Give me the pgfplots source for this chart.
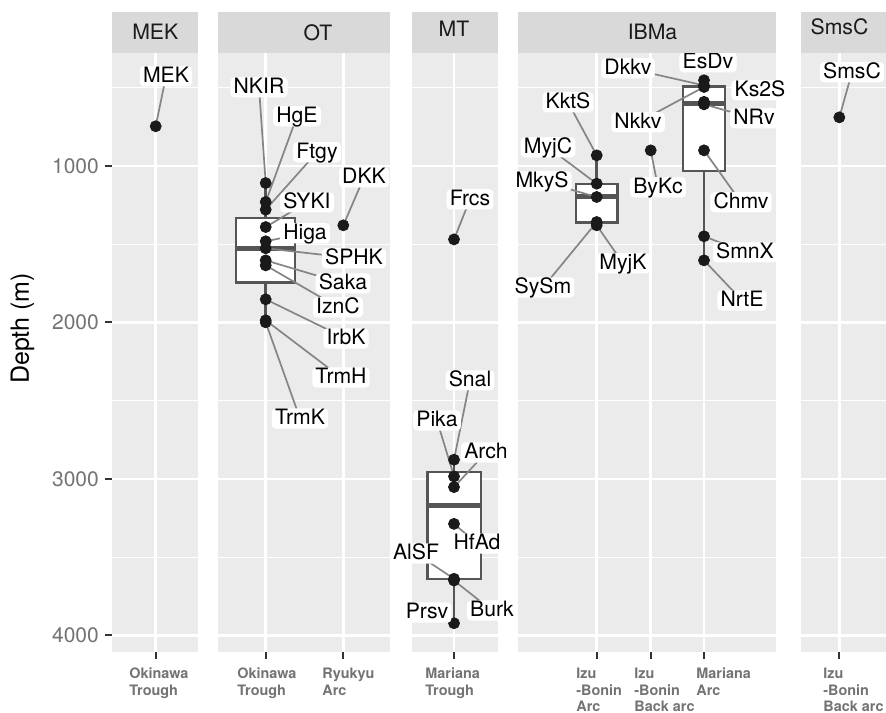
\documentclass[border=0pt]{standalone}
\usepackage{pgfplots}
\pgfplotsset{compat=1.18}
\usepackage{pgfplotstable}
\usepgfplotslibrary{statistics}
\usepackage{fontspec}
\setmainfont{TeX Gyre Heros}
\definecolor{panelbg}{HTML}{EBEBEB}
\definecolor{stripbg}{HTML}{D9D9D9}
\definecolor{tickcol}{HTML}{333333}
\definecolor{ticklab}{HTML}{737373}
\definecolor{boxcol}{HTML}{555555}
\definecolor{segcol}{HTML}{858585}
\definecolor{ptcol}{HTML}{1A1A1A}
\definecolor{striptext}{HTML}{1A1A1A}
\newcommand\labfont{\fontsize{10.6}{12}\selectfont}
\newcommand\tickfont{\fontsize{10.5}{12}\selectfont}

\pgfplotstableread{
name px py lx ly s
MEK 155.7 746 166 427 1
}\mekdata
\pgfplotstableread{
name px py lx ly s
NKIR 265.7 1109 259 497 1
HgE 265.7 1230 297 682 1
Ftgy 265.7 1279 317 912 1
SYKI 265.7 1390 307 1232 1
Higa 265.7 1481 305 1430 1
SPHK 265.7 1526 354 1590 1
Saka 265.7 1603 343 1750 1
IznC 265.7 1635 338 1903 1
IrbK 265.7 1852 346 2102 1
TrmH 265.7 1986 341 2351 1
TrmK 265.7 1999 300 2613 1
DKK 343.3 1379 364 1072 1
}\otdata
\pgfplotstableread{
name px py lx ly s
Frcs 454 1469 470 1213 1
Snal 454 2877 470 2370 1
Pika 454 2984 437 2626 1
Arch 454 3052 486 2831 1
HfAd 454 3287 477 3412 1
AlSF 454 3638 416 3476 1
Burk 454 3649 492 3841 1
Prsv 454 3922 427 3854 1
}\mtdata
\pgfplotstableread{
name px py lx ly s
KktS 596.7 932 568 593 1
MyjC 596.7 1113 548 880 1
MkyS 596.7 1198 542 1098 1
SySm 596.7 1358 543 1776 1
MyjK 596.7 1379 623 1622 1
ByKc 650.7 900 658 1136 1
EsDv 704 452 708 337 0
Dkkv 704 485 628 375 1
Nkkv 704 495 638 721 1
Ks2S 704 590 760 516 0
NRv 704 606 754 695 1
Chmv 704 900 741 1232 1
SmnX 704 1449 745 1552 1
NrtE 704 1603 742 1859 1
}\ibmdata
\pgfplotstableread{
name px py lx ly s
SmsC 839.3 689 852 401 1
}\smsdata

\pgfplotsset{
  panel/.style={
    scale only axis, height=299.1pt, anchor=south west,
    y dir=reverse, ymin=281, ymax=4104,
    clip=false,
    axis background/.style={fill=panelbg},
    axis line style={draw=none},
    ytick={1000,2000,3000,4000},
    minor ytick={500,1500,2500,3500},
    ymajorgrids, yminorgrids, xmajorgrids,
    major grid style={draw=white, line width=1.25pt},
    minor grid style={draw=white, line width=0.7pt},
    tick align=outside,
    major tick length=3.4pt, minor tick length=0pt,
    tick style={tickcol, line width=1pt},
    xtick pos=left, ytick pos=left,
    xticklabels={}, yticklabels={},
    ytick style={draw=none},
    /pgf/number format/assume math mode=true,
    boxplot/draw direction=y,
    boxplot/every box/.style={draw=boxcol, fill=white, line width=1.15pt},
    boxplot/every whisker/.style={draw=boxcol, line width=1.3pt},
    boxplot/every median/.style={draw=boxcol, line width=2.5pt},
  },
  bx/.style={draw=boxcol, fill=white, solid, mark=none, line width=1.15pt},
  seg/.style={segcol, line width=0.85pt, no markers,
    quiver={u=\thisrow{s}*(\thisrow{lx}-\thisrow{px}), v=\thisrow{s}*(\thisrow{ly}-\thisrow{py})}},
  pts/.style={only marks, mark=*, mark size=2.75pt, color=ptcol, mark options={fill=ptcol, draw=ptcol}},
  labs/.style={draw=none, no markers, nodes near coords, nodes near coords align={center},
    point meta=explicit symbolic,
    every node near coord/.append style={font=\labfont, fill=white, text=black, rounded corners=2pt,
      inner xsep=1.6pt, inner ysep=0pt, text height=8pt, text depth=2.1pt}},
}
\tikzset{xlab/.style={anchor=north west, inner sep=0pt, align=left, yshift=-7.9pt,
  font=\fontsize{7.2}{8.35}\selectfont\bfseries, text=ticklab}}

\begin{document}
\begin{tikzpicture}
\useasboundingbox (0,0) rectangle (443pt,356pt);
% MEK
\begin{axis}[panel, at={(56pt,30.15pt)}, width=43pt, xmin=112, xmax=198, xtick={155.7},
  yticklabels={1000,2000,3000,4000}, ytick style={draw=tickcol},
  yticklabel style={font=\tickfont, text=ticklab, anchor=east, inner sep=0pt, xshift=-3pt}]
 \addplot[seg] table[x=px,y=py] {\mekdata};
 \addplot[pts] table[x=px,y=py] {\mekdata};
 \addplot[labs] table[x=lx,y=ly,meta=name] {\mekdata};
 \node[xlab] at (axis cs:129,4104) {Okinawa\\Trough};
\end{axis}
% OT
\begin{axis}[panel, at={(109pt,30.15pt)}, width=86pt, xmin=218, xmax=390, xtick={265.7,343.3}]
 \addplot[bx, boxplot prepared={draw position=265.7, lower whisker=1109, lower quartile=1334,
   median=1526, upper quartile=1744, upper whisker=1999, box extend=59, whisker extend=0}] coordinates {};
 \addplot[seg] table[x=px,y=py] {\otdata};
 \addplot[pts] table[x=px,y=py] {\otdata};
 \addplot[labs] table[x=lx,y=ly,meta=name] {\otdata};
 \node[xlab] at (axis cs:237,4104) {Okinawa\\Trough};
 \node[xlab] at (axis cs:322,4104) {Ryukyu\\Arc};
\end{axis}
% MT
\begin{axis}[panel, at={(206pt,30.15pt)}, width=43pt, xmin=412, xmax=498, xtick={454}]
 \addplot[bx, boxplot prepared={draw position=454, lower whisker=2877, lower quartile=2957,
   median=3170, upper quartile=3641, upper whisker=3922, box extend=53.3, whisker extend=0}] coordinates {};
 \addplot[seg] table[x=px,y=py] {\mtdata};
 \addplot[pts] table[x=px,y=py] {\mtdata};
 \addplot[labs] table[x=lx,y=ly,meta=name] {\mtdata};
 \node[xlab] at (axis cs:425,4104) {Mariana\\Trough};
\end{axis}
% IBMa
\begin{axis}[panel, at={(259pt,30.15pt)}, width=129pt, xmin=518, xmax=776, xtick={596.7,650.7,704}]
 \addplot[bx, boxplot prepared={draw position=596.7, lower whisker=932, lower quartile=1113,
   median=1198, upper quartile=1362, upper whisker=1379, box extend=41.3, whisker extend=0}] coordinates {};
 \addplot[bx, boxplot prepared={draw position=704, lower whisker=452, lower quartile=492,
   median=598, upper quartile=1034, upper whisker=1603, box extend=41.7, whisker extend=0}] coordinates {};
 \addplot[seg] table[x=px,y=py] {\ibmdata};
 \addplot[pts] table[x=px,y=py] {\ibmdata};
 \addplot[labs] table[x=lx,y=ly,meta=name] {\ibmdata};
 \node[xlab] at (axis cs:576,4104) {Izu\\-Bonin\\Arc};
 \node[xlab] at (axis cs:634,4104) {Izu\\-Bonin\\Back arc};
 \node[xlab] at (axis cs:696,4104) {Mariana\\Arc};
\end{axis}
% SmsC
\begin{axis}[panel, at={(400.5pt,30.15pt)}, width=42.5pt, xmin=801, xmax=886, xtick={839.3}]
 \addplot[seg] table[x=px,y=py] {\smsdata};
 \addplot[pts] table[x=px,y=py] {\smsdata};
 \addplot[labs] table[x=lx,y=ly,meta=name] {\smsdata};
 \node[xlab] at (axis cs:823,4104) {Izu\\-Bonin\\Back arc};
\end{axis}
% strips
\fill[stripbg] (56pt,329.3pt) rectangle (99pt,350pt);
\fill[stripbg] (109pt,329.3pt) rectangle (195pt,350pt);
\fill[stripbg] (206pt,329.3pt) rectangle (249pt,350pt);
\fill[stripbg] (259pt,329.3pt) rectangle (388pt,350pt);
\fill[stripbg] (400.5pt,329.3pt) rectangle (443pt,350pt);
\begin{scope}[every node/.style={anchor=base, inner sep=0pt, font=\labfont, text=striptext}]
\node at (77.65pt,336pt) {MEK};
\node at (159pt,335.65pt) {OT};
\node at (227pt,337.5pt) {MT};
\node at (326.25pt,336pt) {IBMa};
\node at (419.75pt,338.5pt) {SmsC};
\end{scope}
\node[rotate=90, inner sep=0pt, font=\fontsize{12.5}{14}\selectfont, text=black] at (11.25pt,191.75pt) {Depth (m)};
\end{tikzpicture}
\end{document}
